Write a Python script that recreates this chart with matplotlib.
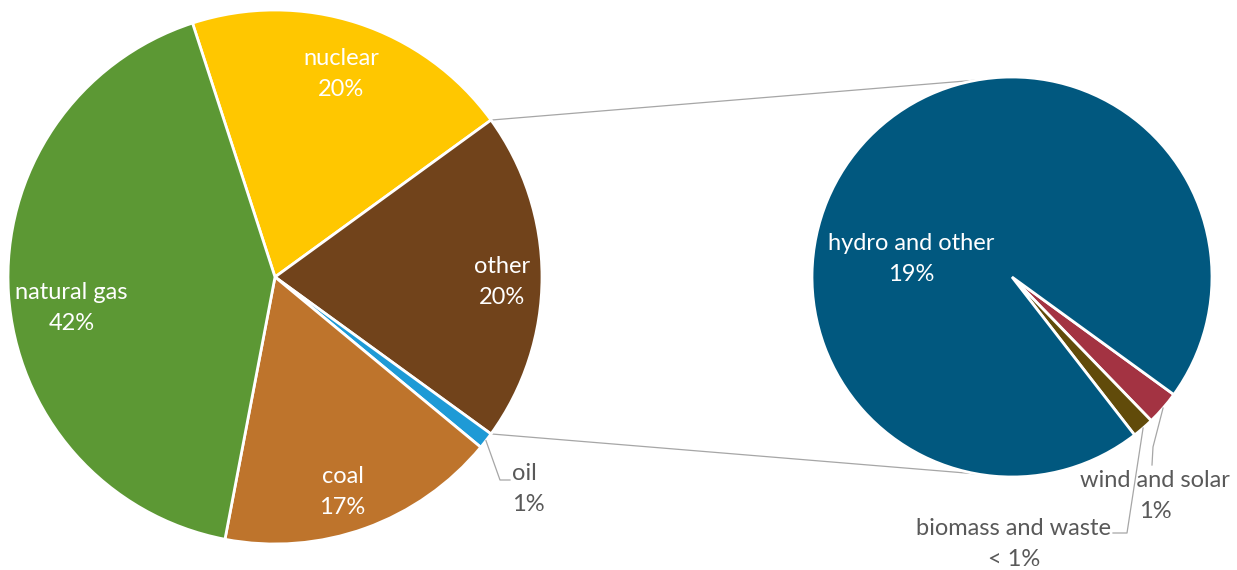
import numpy as np
import matplotlib.pyplot as plt

# main pie, clockwise from the top
main_labels = ["nuclear", "other", "oil", "coal", "natural gas"]
main_values = [20, 20, 1, 17, 42]
main_colors = ["#FFC700", "#71431B", "#1E9AD6", "#BE742C", "#5C9834"]

# breakdown of the "other" slice (shares of the total)
sub_labels = ["wind and solar", "biomass and waste", "hydro and other"]
sub_values = [0.55, 0.35, 19.1]
sub_colors = ["#A33342", "#614B0A", "#01587F"]

plt.rcParams["font.family"] = ["Lato", "DejaVu Sans"]
W, H = 1237, 570
fig = plt.figure(figsize=(W / 100, H / 100), dpi=100)
ax = fig.add_axes([0, 0, 1, 1])

main_c, main_r = (275, 293), 267
sub_c, sub_r = (1012, 293), 200
edge = dict(edgecolor="white", linewidth=2)
gray = "#595959"
line_gray = "#A6A6A6"
fs = 17
ls = 1.6


def pct(v, total):
    p = v / total * 100
    return "< 1%" if p < 0.5 else f"{round(p)}%"


def on_circle(c, r, ang):
    a = np.deg2rad(ang)
    return c[0] + r * np.cos(a), c[1] + r * np.sin(a)


main_w, _ = ax.pie(main_values, colors=main_colors, startangle=108,
                   counterclock=False, center=main_c, radius=main_r,
                   wedgeprops=edge)
sub_w, _ = ax.pie(sub_values, colors=sub_colors, startangle=-36,
                  counterclock=False, center=sub_c, radius=sub_r,
                  wedgeprops=edge)

total = sum(main_values)

# labels inside the main pie
inside = {"nuclear": 0.8, "other": 0.85, "coal": 0.845, "natural gas": 0.77}
shift = {"nuclear": 0, "other": -1.2, "coal": -2.4, "natural gas": 5}
for w, lab, v in zip(main_w, main_labels, main_values):
    mid = (w.theta1 + w.theta2) / 2
    if lab in inside:
        x, y = on_circle(main_c, main_r * inside[lab], mid + shift[lab])
        ax.text(x, y, f"{lab}\n{pct(v, total)}", ha="center",
                va="center", color="white", fontsize=fs, linespacing=ls)
    else:
        # oil gets a leader line
        x0, y0 = on_circle(main_c, main_r, mid)
        ax.plot([x0, 500, 510], [y0, H - 480, H - 480], color=line_gray, lw=0.9)
        ax.text(512, H - 489, f"{lab}\n{pct(v, total)}", ha="left",
                va="center", color=gray, fontsize=fs, linespacing=ls)

# lines joining the "other" slice to the second pie
ow = main_w[main_labels.index("other")]
for a_main, a_sub in [(ow.theta2, 100), (ow.theta1, 260)]:
    x0, y0 = on_circle(main_c, main_r, a_main)
    x1, y1 = on_circle(sub_c, sub_r, a_sub)
    ax.plot([x0, x1], [y0, y1], color=line_gray, lw=0.9, zorder=0)

# labels of the second pie
for w, lab, v in zip(sub_w, sub_labels, sub_values):
    mid = (w.theta1 + w.theta2) / 2
    x0, y0 = on_circle(sub_c, sub_r, mid)
    txt = f"{lab}\n{pct(v, total)}"
    if lab == "hydro and other":
        ax.text(911, H - 259, txt, ha="center", va="center", color="white",
                fontsize=fs, linespacing=ls)
    elif lab == "wind and solar":
        ax.plot([x0, 1153, 1152], [y0, H - 447, H - 465], color=line_gray, lw=0.9)
        ax.text(1155, H - 496, txt, ha="center", va="center", color=gray,
                fontsize=fs, linespacing=ls)
    else:
        ax.plot([x0, 1127, 1113], [y0, H - 533, H - 533], color=line_gray, lw=0.9)
        ax.text(1014, H - 544, txt, ha="center", va="center", color=gray,
                fontsize=fs, linespacing=ls)

ax.set_xlim(0, W)
ax.set_ylim(0, H)
ax.set_aspect("equal")
ax.axis("off")
fig.savefig("out.png", dpi=100)
